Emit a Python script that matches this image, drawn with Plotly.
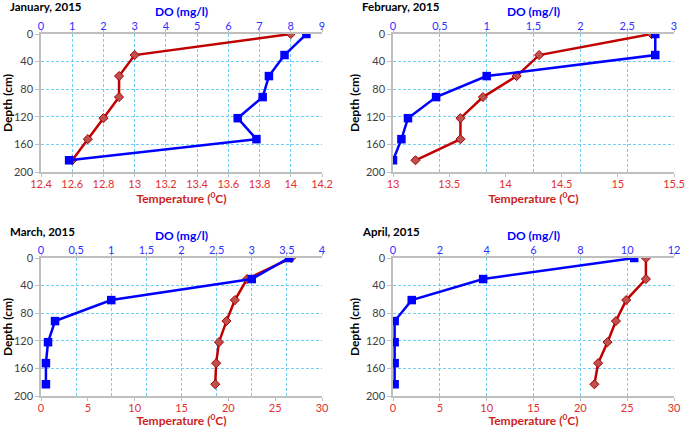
import plotly.graph_objects as go

# depth of each sampling point (cm)
depth = [0, 30.5, 61, 91.4, 122, 152.4, 183]

months = ["January, 2015", "February, 2015", "March, 2015", "April, 2015"]

temp_jan = [14.0, 13.0, 12.9, 12.9, 12.8, 12.7, 12.6]
do_jan = [8.5, 7.8, 7.3, 7.1, 6.3, 6.9, 0.9]

temp_feb = [15.3, 14.3, 14.1, 13.8, 13.6, 13.6, 13.2]
do_feb = [2.8, 2.8, 1.0, 0.46, 0.16, 0.09, 0.0]

temp_mar = [26.7, 22.0, 20.7, 19.8, 19.0, 18.7, 18.6]
do_mar = [3.53, 3.0, 1.0, 0.2, 0.1, 0.07, 0.07]

temp_apr = [27.0, 27.0, 24.9, 23.8, 22.9, 21.9, 21.5]
do_apr = [10.3, 3.85, 0.8, 0.07, 0.07, 0.07, 0.07]

temps = [temp_jan, temp_feb, temp_mar, temp_apr]
dos = [do_jan, do_feb, do_mar, do_apr]

temp_ranges = [[12.4, 14.2, 0.2], [13, 15.5, 0.5], [0, 30, 5], [0, 30, 5]]
do_ranges = [[0, 9, 1], [0, 3, 0.5], [0, 4, 0.5], [0, 12, 2]]

W, H = 685, 428
FONT = "Lato, Calibri, sans-serif"
BLUE = "#0000ff"
RED = "#c00000"
GRID = "#6fcff5"
AXIS = "#bfbfbf"

# plot areas in pixels: (left, right, top, bottom)
boxes = [
    (41, 322, 34, 172),
    (393, 674, 34, 172),
    (41, 322, 258, 396),
    (393, 674, 258, 396),
]

fig = go.Figure()
layout = {}

for i in range(4):
    l, r, t, b = boxes[i]
    n = i + 1
    xt = 2 * i + 1
    xd = 2 * i + 2
    xt_name = "x" if xt == 1 else f"x{xt}"
    y_name = "y" if n == 1 else f"y{n}"

    fig.add_trace(go.Scatter(
        x=dos[i], y=depth, xaxis=f"x{xd}", yaxis=y_name,
        mode="lines+markers",
        line=dict(color=BLUE, width=2.5),
        marker=dict(symbol="square", size=8.5, color=BLUE),
        showlegend=False,
    ))
    fig.add_trace(go.Scatter(
        x=temps[i], y=depth, xaxis=xt_name, yaxis=y_name,
        mode="lines+markers",
        line=dict(color=RED, width=2.5),
        marker=dict(symbol="diamond", size=7, color="#c0504d",
                    line=dict(color="#a50000", width=1)),
        showlegend=False,
    ))

    dom_x = [l / W, r / W]
    dom_y = [1 - b / H, 1 - t / H]
    lo, hi, step = temp_ranges[i]
    layout[f"xaxis{xt}" if xt > 1 else "xaxis"] = dict(
        domain=dom_x, anchor=y_name, side="bottom", automargin=False,
        range=[lo, hi], dtick=step, tick0=lo,
        showgrid=False, zeroline=False,
        showline=True, linecolor=AXIS, linewidth=1.5,
        ticks="outside", ticklen=3, tickcolor=AXIS, ticklabelstandoff=-2,
        tickfont=dict(color="#e03030", size=11),
        title=dict(text="<b>Temperature (<sup>0</sup>C)</b>",
                   font=dict(color="#cc1f1f", size=12), standoff=4),
    )
    lo, hi, step = do_ranges[i]
    layout[f"xaxis{xd}"] = dict(
        domain=dom_x, anchor=y_name, overlaying=xt_name, side="top",
        automargin=False,
        range=[lo, hi], dtick=step, tick0=lo,
        showgrid=True, gridcolor=GRID, griddash="3px,2px", gridwidth=1,
        zeroline=False,
        showline=True, linecolor=AXIS, linewidth=1.5,
        ticks="outside", ticklen=3, tickcolor=AXIS, ticklabelstandoff=-5,
        tickfont=dict(color="#3030ff", size=11),
        title=dict(text="<b>DO (mg/l)</b>", font=dict(color=BLUE, size=12),
                   standoff=0),
    )
    layout[f"yaxis{n}" if n > 1 else "yaxis"] = dict(
        domain=dom_y, anchor=xt_name, automargin=False,
        range=[200, 0], dtick=40,
        showgrid=True, gridcolor=GRID, griddash="3px,2px", gridwidth=1,
        zeroline=False,
        showline=True, linecolor=AXIS, linewidth=1.5,
        ticks="outside", ticklen=4, tickcolor=AXIS,
        tickfont=dict(color="#404040", size=11),
        title=dict(text="<b>Depth (cm)</b>", font=dict(color="black", size=12),
                   standoff=4),
    )

    fig.add_annotation(
        text=f"<b>{months[i]}</b>", xref="paper", yref="paper",
        x=(l - 33) / W, y=1 - (t - 27) / H, xanchor="left", yanchor="middle",
        showarrow=False, font=dict(size=11.5, color="black"),
    )

fig.update_layout(
    width=W, height=H,
    margin=dict(l=0, r=0, t=0, b=0),
    paper_bgcolor="white", plot_bgcolor="white",
    font=dict(family=FONT, color="black"),
    **layout,
)

# drop the browser's default body margin so the figure sits at the page corner
fig.write_html("out.html", config={"displayModeBar": False},
               post_script="document.body.style.margin='0px';")
